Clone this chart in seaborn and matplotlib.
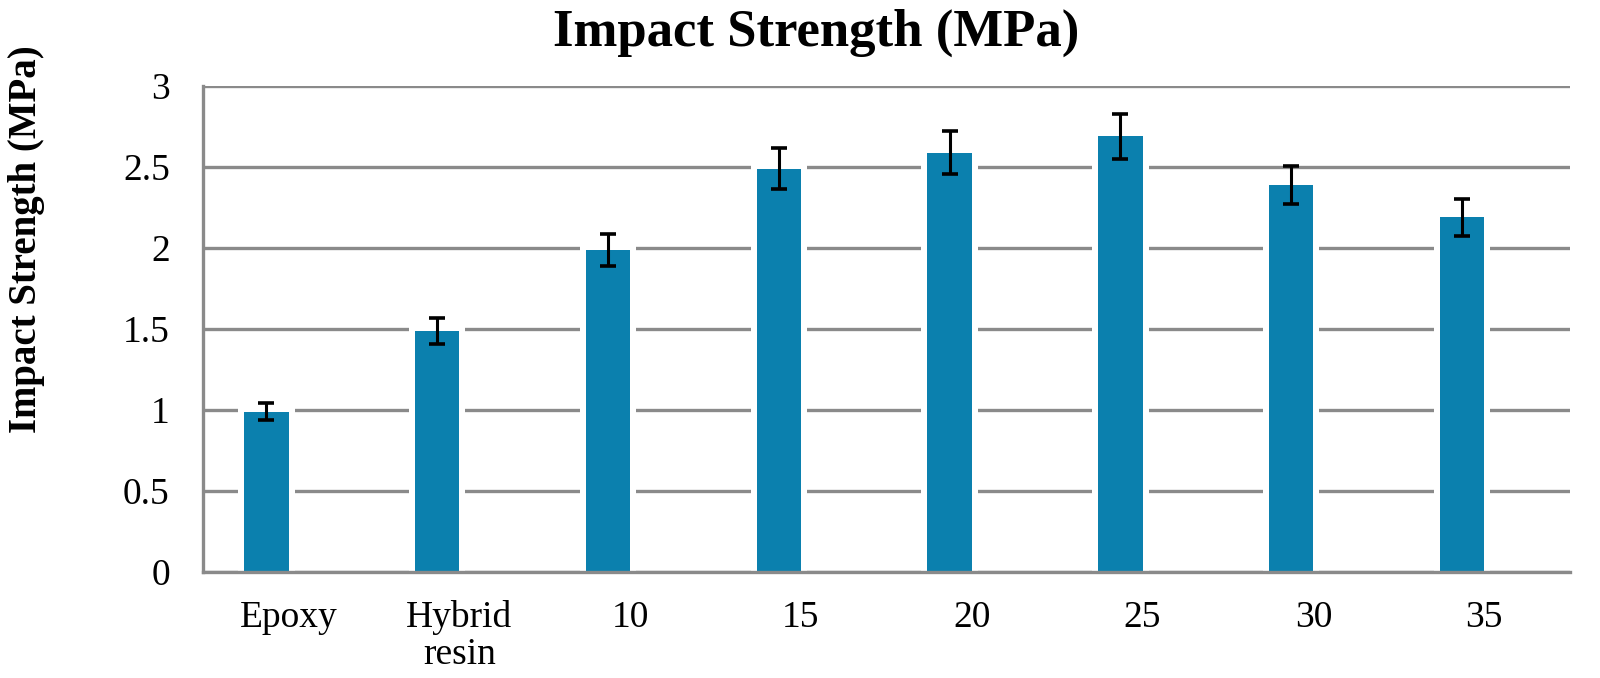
import numpy as np
import pandas as pd
import seaborn as sns
import matplotlib.pyplot as plt
from matplotlib.patches import Rectangle

# data
categories = ["Epoxy", "Hybrid\nresin", "10", "15", "20", "25", "30", "35"]
strength = [0.99, 1.49, 1.99, 2.49, 2.59, 2.69, 2.39, 2.19]
err = [0.053, 0.08, 0.10, 0.125, 0.13, 0.14, 0.12, 0.115]
ytick_labels = ["0", "0.5", "1", "1.5", "2", "2.5", "3"]

df = pd.DataFrame({"group": categories, "strength": strength})

sns.set_style("white")
plt.rcParams['font.family'] = ['Liberation Serif', 'DejaVu Serif']
plt.rcParams.update({"text.color": "black", "axes.labelcolor": "black",
                     "xtick.color": "black", "ytick.color": "black"})

fig = plt.figure(figsize=(16, 6.78), dpi=100)
ax = fig.add_axes([0.127, 0.156, 0.854, 0.717])

grid_col = "#8a8a8a"
bar_col = "#0b80ae"

sns.barplot(data=df, x="group", y="strength", color=bar_col, width=0.26,
            linewidth=0, saturation=1, ax=ax, zorder=3)
# white halo behind each bar -> gap in the gridlines like excel
pad = 0.035
for p in list(ax.patches):
    halo = Rectangle((p.get_x() - pad, p.get_y()), p.get_width() + 2 * pad,
                     p.get_height() + 0.03, facecolor="white",
                     edgecolor="none", linewidth=0, zorder=2)
    ax.add_patch(halo)

pos = np.arange(len(categories))
ax.errorbar(pos, strength, yerr=err, fmt="none", ecolor="black",
            elinewidth=2.2, capsize=6, capthick=2.6, zorder=4)

# bar sits left of the category centre (second empty series in excel)
shift = 0.13
ax.set_xlim(-0.5 + shift, len(categories) - 0.5 + shift)
ax.set_xticks(pos + shift)
ax.set_xticklabels(categories, fontsize=27, linespacing=1.1)
ax.set_ylim(0, 3)
ax.set_yticks(np.arange(0, 3.01, 0.5))
ax.set_yticklabels(ytick_labels, fontsize=27)
ax.tick_params(axis="both", length=0)
ax.tick_params(axis="x", pad=20)
ax.tick_params(axis="y", pad=24)

ax.yaxis.grid(True, color=grid_col, linewidth=2.4)
ax.xaxis.grid(False)
for gl in ax.get_ygridlines():
    gl.set_zorder(1)
for s in ["top", "right"]:
    ax.spines[s].set_visible(False)
for s in ["left", "bottom"]:
    ax.spines[s].set_color(grid_col)
    ax.spines[s].set_linewidth(2.4)
    ax.spines[s].set_zorder(5)

ax.set_xlabel("")
ax.set_ylabel("")
fig.text(0.0165, 0.648, "Impact Strength (MPa)", fontsize=28, fontweight="bold",
         rotation=90, ha="center", va="center")

fig.text(0.51, 0.952, "Impact Strength (MPa)", fontsize=38, fontweight="bold",
         ha="center", va="center")

plt.savefig("out.png", dpi=100)
